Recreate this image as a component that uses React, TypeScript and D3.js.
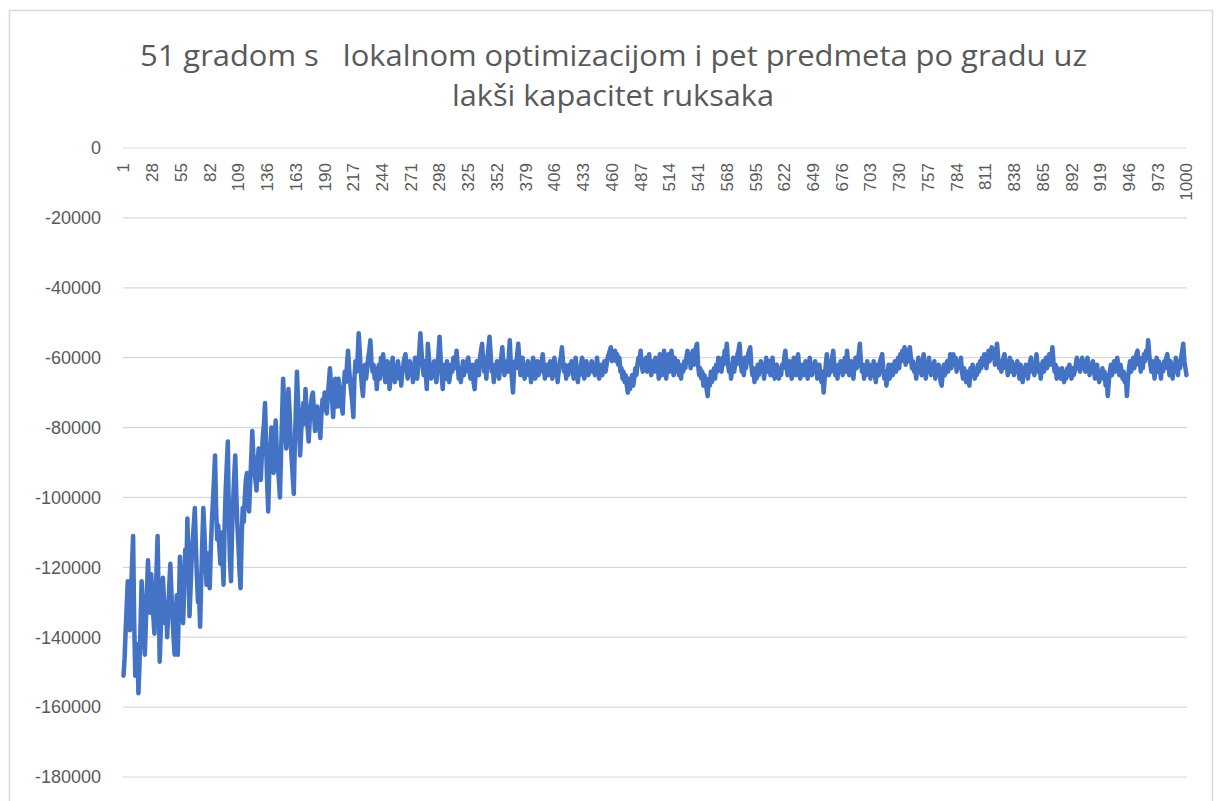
import { useMemo } from 'react';
import * as d3 from 'd3';

const TITLE_LINES = ['51 gradom s   lokalnom optimizacijom i pet predmeta po gradu uz', 'lakši kapacitet ruksaka'];

const Y_TICKS = [0, -20000, -40000, -60000, -80000, -100000, -120000, -140000, -160000, -180000];

// fitness per generation, in thousands
const FITNESS_K = [
  -151, -146, -138, -131, -124, -129, -138, -127, -119, -111, -135, -151, -147, -142, -156, -148, -136, -124, -130, -139,
  -145, -136, -127, -118, -126, -133, -122, -128, -134, -139, -130, -121, -111, -129, -147, -138, -131, -123, -129, -136,
  -132, -140, -133, -125, -119, -127, -134, -140, -145, -137, -128, -145, -131, -117, -124, -130, -136, -127, -115, -122,
  -106, -119, -134, -126, -118, -112, -108, -103, -114, -123, -130, -128, -137, -124, -113, -103, -110, -118, -125, -121,
  -116, -126, -115, -107, -101, -95, -88, -103, -112, -108, -114, -119, -110, -117, -125, -108, -98, -91, -84, -106,
  -118, -124, -110, -101, -94, -88, -99, -108, -114, -121, -126, -112, -103, -107, -100, -95, -93, -99, -104, -96,
  -89, -81, -88, -92, -95, -98, -90, -86, -91, -95, -88, -82, -79, -73, -85, -96, -104, -92, -86, -80,
  -87, -93, -84, -78, -86, -91, -95, -100, -88, -77, -66, -74, -81, -86, -78, -69, -75, -83, -89, -94,
  -99, -85, -74, -64, -72, -80, -88, -81, -77, -73, -79, -69, -75, -80, -84, -78, -74, -71, -70, -76,
  -81, -78, -74, -77, -80, -83, -76, -72, -75, -70, -73, -76, -71, -67, -63, -68, -72, -77, -70, -66,
  -71, -74, -66, -69, -72, -74, -76, -68, -64, -67, -62, -58, -63, -67, -70, -73, -77, -66, -61, -64,
  -60, -53, -58, -64, -68, -71, -65, -62, -66, -63, -60, -58, -55, -61, -64, -62, -66, -63, -69, -64,
  -62, -66, -60, -64, -59, -63, -67, -65, -61, -64, -69, -66, -62, -60, -64, -67, -63, -65, -61, -66,
  -63, -68, -64, -62, -60, -59, -63, -66, -64, -61, -65, -62, -67, -63, -60, -64, -66, -62, -58, -53,
  -58, -62, -65, -61, -64, -69, -56, -60, -63, -66, -62, -64, -61, -65, -67, -63, -59, -54, -60, -65,
  -69, -64, -62, -66, -61, -63, -67, -65, -62, -64, -60, -63, -61, -58, -62, -66, -63, -67, -64, -61,
  -65, -62, -64, -61, -60, -63, -66, -64, -62, -67, -69, -64, -61, -63, -65, -60, -58, -56, -61, -64,
  -62, -66, -60, -57, -54, -59, -64, -62, -67, -63, -65, -61, -64, -66, -62, -60, -57, -62, -65, -63,
  -61, -64, -60, -55, -62, -66, -70, -64, -61, -63, -59, -56, -61, -65, -63, -60, -64, -66, -62, -64,
  -61, -65, -63, -67, -62, -60, -64, -66, -63, -61, -65, -62, -64, -61, -59, -63, -66, -64, -62, -65,
  -63, -61, -64, -66, -62, -60, -65, -63, -67, -64, -61, -60, -57, -61, -64, -62, -66, -63, -65, -62,
  -64, -61, -63, -66, -62, -60, -64, -67, -63, -65, -62, -60, -63, -66, -64, -61, -63, -65, -62, -64,
  -61, -64, -62, -65, -63, -60, -63, -66, -64, -62, -65, -63, -61, -64, -62, -60, -59, -58, -57, -61,
  -59, -60, -58, -61, -59, -62, -60, -64, -63, -66, -64, -67, -65, -68, -70, -66, -69, -67, -65, -68,
  -66, -63, -65, -62, -60, -61, -58, -62, -64, -61, -63, -60, -64, -62, -59, -63, -65, -61, -64, -62,
  -60, -64, -62, -66, -59, -63, -65, -61, -58, -63, -66, -62, -59, -64, -61, -58, -63, -65, -60, -62,
  -64, -61, -65, -63, -66, -62, -64, -61, -63, -60, -58, -61, -59, -63, -60, -58, -62, -59, -57, -56,
  -62, -65, -63, -66, -64, -68, -65, -67, -69, -71, -66, -68, -64, -67, -65, -63, -66, -62, -64, -60,
  -63, -61, -64, -60, -62, -58, -59, -56, -61, -64, -62, -66, -63, -60, -64, -61, -62, -59, -58, -56,
  -61, -64, -62, -65, -60, -63, -61, -59, -58, -57, -62, -65, -63, -67, -64, -66, -62, -65, -63, -61,
  -64, -62, -66, -63, -60, -64, -62, -61, -65, -63, -60, -64, -66, -63, -62, -64, -66, -63, -65, -62,
  -63, -60, -58, -62, -65, -63, -61, -64, -66, -62, -60, -63, -65, -61, -59, -63, -66, -64, -62, -65,
  -63, -61, -64, -66, -62, -60, -63, -65, -62, -64, -61, -63, -66, -64, -62, -65, -67, -64, -70, -66,
  -62, -59, -63, -65, -61, -64, -60, -58, -62, -65, -63, -66, -62, -64, -61, -63, -65, -62, -60, -64,
  -58, -62, -65, -63, -61, -64, -66, -62, -60, -63, -61, -59, -56, -61, -64, -62, -66, -63, -65, -61,
  -64, -62, -66, -63, -65, -61, -64, -67, -63, -62, -65, -61, -60, -59, -63, -66, -64, -68, -65, -62,
  -66, -64, -62, -65, -63, -61, -64, -62, -60, -63, -59, -61, -58, -60, -57, -62, -59, -58, -61, -57,
  -60, -63, -61, -64, -62, -66, -63, -60, -64, -62, -65, -61, -59, -63, -66, -62, -64, -60, -63, -65,
  -62, -64, -61, -66, -63, -65, -62, -64, -67, -68, -64, -62, -65, -63, -61, -64, -62, -59, -63, -61,
  -59, -62, -60, -64, -61, -63, -62, -60, -64, -66, -63, -65, -67, -64, -66, -68, -63, -65, -62, -64,
  -66, -63, -65, -62, -64, -61, -63, -60, -62, -59, -61, -63, -60, -58, -61, -59, -57, -60, -58, -62,
  -58, -56, -60, -63, -61, -64, -62, -60, -59, -63, -61, -65, -62, -60, -64, -61, -63, -65, -62, -64,
  -61, -63, -66, -62, -64, -67, -63, -65, -62, -64, -66, -63, -61, -60, -64, -62, -65, -63, -59, -62,
  -64, -62, -66, -63, -61, -64, -62, -60, -63, -61, -59, -62, -60, -57, -61, -64, -62, -66, -63, -65,
  -64, -66, -63, -65, -67, -64, -66, -63, -65, -62, -64, -66, -63, -65, -64, -62, -60, -63, -61, -64,
  -62, -60, -63, -61, -64, -62, -60, -63, -65, -62, -64, -61, -63, -66, -64, -62, -65, -67, -64, -66,
  -63, -66, -64, -68, -65, -71, -67, -64, -62, -65, -63, -61, -64, -62, -60, -63, -65, -62, -64, -66,
  -64, -67, -65, -71, -66, -63, -61, -64, -62, -60, -63, -61, -59, -58, -62, -60, -64, -61, -63, -59,
  -61, -58, -60, -55, -59, -62, -64, -61, -63, -66, -62, -60, -64, -61, -63, -66, -62, -64, -61, -63,
  -60, -59, -62, -65, -61, -63, -66, -62, -64, -60, -62, -65, -61, -63, -60, -58, -56, -61, -63, -65,
];

const GENERATIONS = FITNESS_K.map((_, i) => i + 1);
const X_TICKS = GENERATIONS.filter((g) => (g - 1) % 27 === 0 || g === 1000);

const W = 1217;
const H = 801;
const TEXT = '#595959';
const GRID = '#d9d9d9';
const LINE = '#4472c4';

export default function App() {
  const plot = { left: 123, right: 1187, top: 148, bottom: 777 };

  const x = useMemo(
    () => d3.scaleBand<number>().domain(GENERATIONS).range([plot.left, plot.right]),
    [],
  );
  const y = useMemo(
    () => d3.scaleLinear().domain([-180000, 0]).range([plot.bottom, plot.top]),
    [],
  );

  const path = useMemo(() => {
    const line = d3
      .line<number>()
      .x((_, i) => (x(GENERATIONS[i]) ?? 0) + x.bandwidth() / 2)
      .y((v) => y(v * 1000));
    return line(FITNESS_K) ?? '';
  }, [x, y]);

  return (
    <div style={{ position: 'absolute', left: 0, top: 0 }}>
      <svg width={W} height={H} style={{ display: 'block', fontFamily: '"Liberation Sans", Arial, sans-serif' }}>
        <rect x={0} y={0} width={W} height={H} fill="#fff" />
        <rect x={9.5} y={10.5} width={1203} height={H} fill="#fff" stroke="#d6dbe3" strokeWidth={1.5} />

        {TITLE_LINES.map((t, i) => (
          <text
            key={i}
            x={i === 0 ? 140 : 452}
            y={i === 0 ? 66 : 106}
            fontSize={30}
            fill={TEXT}
            fontFamily='"Open Sans", sans-serif'
            textLength={i === 0 ? 947 : 322}
            lengthAdjust="spacingAndGlyphs"
            style={{ whiteSpace: 'pre' }}
          >
            {t}
          </text>
        ))}

        {Y_TICKS.map((t) => (
          <g key={t}>
            <line x1={plot.left} x2={plot.right} y1={y(t)} y2={y(t)} stroke={GRID} strokeWidth={1.2} />
            <text x={101} y={y(t)} dy="0.35em" textAnchor="end" fontSize={18} fill={TEXT}>
              {String(t)}
            </text>
          </g>
        ))}

        {X_TICKS.map((g) => {
          const cx = (x(g) ?? 0) + x.bandwidth() / 2;
          return (
            <text
              key={g}
              transform={`translate(${cx},163) rotate(-90)`}
              textAnchor="end"
              dy="0.35em"
              fontSize={17}
              fill={TEXT}
            >
              {g}
            </text>
          );
        })}

        <path d={path} fill="none" stroke={LINE} strokeWidth={4.5} strokeLinejoin="round" strokeLinecap="round" />
      </svg>
    </div>
  );
}
